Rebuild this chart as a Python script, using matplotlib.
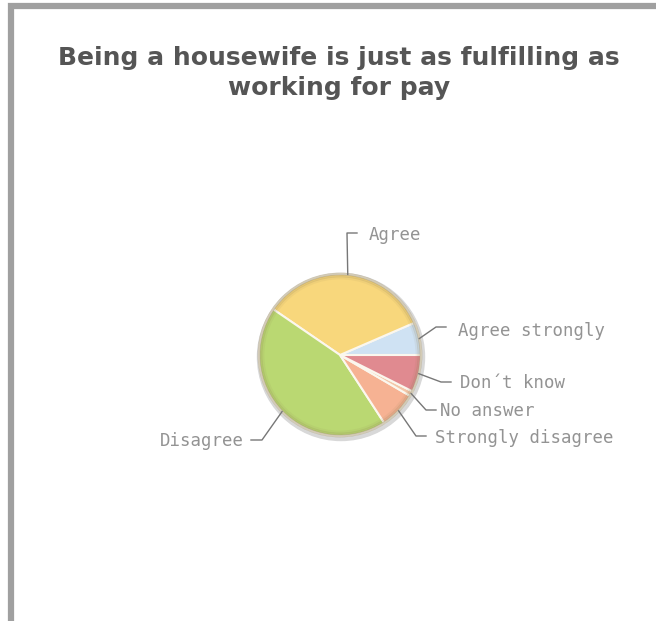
import numpy as np
import matplotlib.pyplot as plt
from matplotlib.patches import Circle, Rectangle

# Données du sondage (en %)
categories = ["Agree strongly", "Agree", "Disagree", "Strongly disagree",
              "No answer", "Don't know"]
valeurs = [6.5, 33.9, 43.7, 7.4, 1.0, 7.4]
couleurs = ["#cfe2f3", "#f8d77c", "#bad872", "#f6b293", "#f3c6a8", "#e08a90"]
libelles = ["Agree strongly", "Agree", "Disagree", "Strongly disagree",
            "No answer", "Don\u00b4t know"]

titre = "Being a housewife is just as fulfilling as\nworking for pay"

# Dimensions en pixels
W, H = 656, 621
cx, cy, r = 340, 355, 81

fig = plt.figure(figsize=(W / 100, H / 100), dpi=100)
ax = fig.add_axes([0, 0, 1, 1])

def py(y):
    # conversion ordonnée écran -> ordonnée du repère
    return H - y

# Cadre gris
ax.add_patch(Rectangle((10.5, -5), W + 10, py(5.5) + 5, fill=False,
                       edgecolor="#a0a0a0", linewidth=4.5))

# Ombre et contour du camembert
ax.add_patch(Circle((cx + 1, py(cy) - 2), r + 2.5, color="#d8d8d8", zorder=1))

wedges, _ = ax.pie(valeurs, colors=couleurs, startangle=0, counterclock=True,
                   center=(cx, py(cy)), radius=r, frame=True,
                   wedgeprops=dict(edgecolor="#fbf7ee", linewidth=1.5))
for w in wedges:
    w.set_zorder(2)

# Effet de relief sur le bord
for k, a in zip([0, 2, 4], [0.35, 0.18, 0.08]):
    ax.add_patch(Circle((cx, py(cy)), r - k, fill=False, edgecolor="#8a7a50",
                        linewidth=2, alpha=a, zorder=3))

ax.set_xlim(0, W)
ax.set_ylim(0, H)
ax.set_aspect("equal")
ax.axis("off")

# Position des étiquettes (x du texte, y écran)
pos_textes = {
    "Agree": (369, 235),
    "Agree strongly": (458, 331),
    "Don't know": (460, 383),
    "No answer": (440, 411),
    "Strongly disagree": (435, 438),
    "Disagree": (244, 441),
}
coudes = {
    "Agree": (347, 233),
    "Agree strongly": (436, 327),
    "Don't know": (441, 382),
    "No answer": (426, 410),
    "Strongly disagree": (416, 436),
    "Disagree": (262, 440),
}

police = dict(fontsize=12.5, family="DejaVu Sans Mono", color="#939393",
              va="center")

for w, cat, lib in zip(wedges, categories, libelles):
    ang = np.radians((w.theta1 + w.theta2) / 2)
    x0 = cx + r * np.cos(ang)
    y0 = py(cy) + r * np.sin(ang)
    xt, yt = pos_textes[cat]
    xe, ye = coudes[cat]
    if cat == "Disagree":
        xh = xe - 11
        ha = "right"
    else:
        xh = xe + 10
        ha = "left"
    ax.plot([x0, xe, xh], [y0, py(ye), py(ye)], color="#777777", lw=1, zorder=4)
    ax.text(xt, py(yt), lib, ha=ha, **police)

# Titre
ax.text(339, py(73), titre, ha="center", va="center", fontsize=18,
        fontweight="bold", color="#555555", linespacing=1.3)

fig.savefig("out.png", dpi=100)
